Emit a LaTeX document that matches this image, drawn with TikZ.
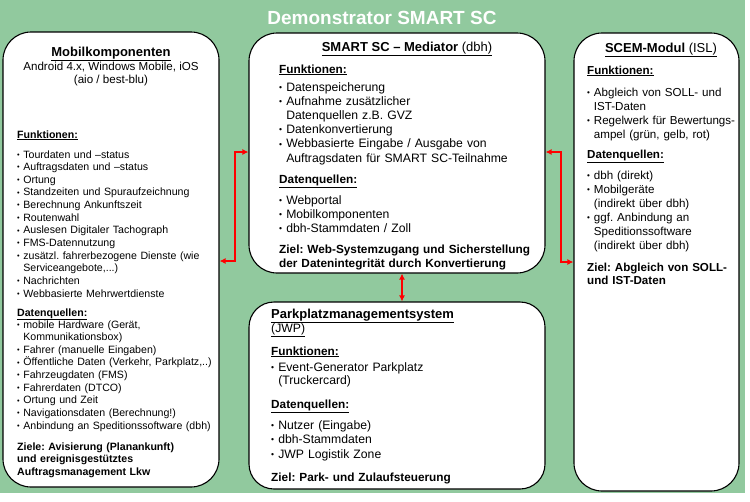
\documentclass[tikz,border=0pt]{standalone}
\usepackage{fontspec}
\setmainfont{Liberation Sans}
\usetikzlibrary{arrows.meta}
\definecolor{bggreen}{RGB}{145,201,158}
\definecolor{arrred}{RGB}{255,0,0}
\newcommand\bl{\raisebox{0.12ex}{\scalebox{0.7}{\textbullet}}\ }
\newcommand\ind{\hphantom{\bl}}
\newcommand\undl[1]{\underline{#1}}
\frenchspacing
\begin{document}
\begin{tikzpicture}[x=1pt,y=-1pt,
  box/.style={draw=black, line width=1.1pt, fill=white, rounded corners=28pt, inner sep=0pt},
  txt/.style={anchor=base west, inner sep=0pt, text width=260pt, align=left},
  small/.style={font=\fontsize{10.6}{12.65}\selectfont},
  smallb/.style={font=\fontsize{10.6}{12.7}\selectfont\bfseries},
  mid/.style={font=\fontsize{12.2}{14.2}\selectfont},
  midb/.style={font=\fontsize{11.8}{14}\selectfont\bfseries},
  rgt/.style={font=\fontsize{11.6}{14}\selectfont},
  rgtb/.style={font=\fontsize{11.6}{13.5}\selectfont\bfseries},
  head/.style={anchor=base, inner sep=0pt, font=\fontsize{13}{15}\selectfont\bfseries},
  sub/.style={anchor=base, inner sep=0pt, font=\fontsize{11.6}{13.5}\selectfont},
  conn/.style={draw=arrred, line width=2pt, {Latex[length=6pt,width=6pt]}-{Latex[length=6pt,width=6pt]}}
]
\useasboundingbox (0,0) rectangle (750,501);
\fill[white] (0,0) rectangle (750,501);
\fill[bggreen] (0,0) rectangle (745,493);

\node[anchor=base, inner sep=0pt, font=\fontsize{19}{22}\selectfont\bfseries, text=white] (title) at (382,24) {Demonstrator SMART SC};

% boxes
\node[box, minimum width=216pt, minimum height=455pt] (lb) at (111,259.5) {};
\node[box, minimum width=296pt, minimum height=240pt] (mt) at (397,153) {};
\node[box, minimum width=296pt, minimum height=187pt, rounded corners=25pt] (mb) at (397,395.5) {};
\node[box, minimum width=165pt, minimum height=458pt] (rb) at (656.5,262) {};

% left box
\node[head] (lh) at (111,56) {\undl{Mobilkomponenten}};
\node[sub] (ls1) at (111,70) {Android 4.x, Windows Mobile, iOS};
\node[sub] (ls2) at (111,83) {(aio / best-blu)};
\node[txt, smallb] (lfh) at (17,138) {\undl{Funktionen:}};
\node[txt, small] (lfl) at (17,158) {\bl Tourdaten und –status\\
\bl Auftragsdaten und –status\\
\bl Ortung\\
\bl Standzeiten und Spuraufzeichnung\\
\bl Berechnung Ankunftszeit\\
\bl Routenwahl\\
\bl Auslesen Digitaler Tachograph\\
\bl FMS-Datennutzung\\
\bl zusätzl. fahrerbezogene Dienste (wie\\
\ind Serviceangebote,...)\\
\bl Nachrichten\\
\bl Webbasierte Mehrwertdienste};
\node[txt, smallb] (ldh) at (17,316) {\undl{Datenquellen:}};
\node[txt, small] (ldl) at (17,328) {\bl mobile Hardware (Gerät,\\
\ind Kommunikationsbox)\\
\bl Fahrer (manuelle Eingaben)\\
\bl Öffentliche Daten (Verkehr, Parkplatz,..)\\
\bl Fahrzeugdaten (FMS)\\
\bl Fahrerdaten (DTCO)\\
\bl Ortung und Zeit\\
\bl Navigationsdaten (Berechnung!)\\
\bl Anbindung an Speditionssoftware (dbh)};
\node[txt, smallb] (lz) at (17,450) {Ziele: Avisierung (Planankunft)\\
und ereignisgestütztes\\
Auftragsmanagement Lkw};

% middle top box
\node[head] (mh) at (407,51) {\undl{SMART SC – Mediator {\mdseries(dbh)}}};
\node[txt, midb] (mfh) at (279,73) {\undl{Funktionen:}};
\node[txt, mid] (mfl) at (279,91) {\bl Datenspeicherung\\
\bl Aufnahme zusätzlicher\\
\ind Datenquellen z.B. GVZ\\
\bl Datenkonvertierung\\
\bl Webbasierte Eingabe / Ausgabe von\\
\ind Auftragsdaten für SMART SC-Teilnahme};
\node[txt, midb] (mdh) at (279,183) {\undl{Datenquellen:}};
\node[txt, mid] (mdl) at (279,204) {\bl Webportal\\
\bl Mobilkomponenten\\
\bl dbh-Stammdaten / Zoll};
\node[txt, midb] (mz) at (279,253) {Ziel: Web-Systemzugang und Sicherstellung\\
der Datenintegrität durch Konvertierung};

% middle bottom box
\node[txt, font=\fontsize{13}{15}\selectfont\bfseries] (bh1) at (271,318) {\undl{Parkplatzmanagementsystem}};
\node[txt, mid] (bh2) at (271,332) {\undl{(JWP)}};
\node[txt, midb] (bfh) at (271,355) {\undl{Funktionen:}};
\node[txt, font=\fontsize{12.2}{13.5}\selectfont] (bfl) at (271,371) {\bl Event-Generator Parkplatz\\
\ind (Truckercard)};
\node[txt, midb] (bdh) at (271,408) {\undl{Datenquellen:}};
\node[txt, font=\fontsize{12.2}{14.5}\selectfont] (bdl) at (271,429) {\bl Nutzer (Eingabe)\\
\bl dbh-Stammdaten\\
\bl JWP Logistik Zone};
\node[txt, midb] (bz) at (271,481) {Ziel: Park- und Zulaufsteuerung};

% right box
\node[head] (rh) at (661,52) {\undl{SCEM-Modul {\mdseries(ISL)}}};
\node[txt, rgtb] (rfh) at (587,74) {\undl{Funktionen:}};
\node[txt, rgt] (rfl) at (587,96) {\bl Abgleich von SOLL- und\\
\ind IST-Daten\\
\bl Regelwerk für Bewertungs-\\
\ind ampel (grün, gelb, rot)};
\node[txt, rgtb] (rdh) at (587,158) {\undl{Datenquellen:}};
\node[txt, rgt] (rdl) at (587,179) {\bl dbh (direkt)\\
\bl Mobilgeräte\\
\ind (indirekt über dbh)\\
\bl ggf. Anbindung an\\
\ind Speditionssoftware\\
\ind (indirekt über dbh)};
\node[txt, rgtb] (rz) at (587,271) {Ziel: Abgleich von SOLL-\\
und IST-Daten};

% connectors
\draw[conn] (lb.east |- 0,261) -- ++(15,0) |- (mt.west |- 0,152);
\draw[conn] (mt.east |- 0,152) -- ++(15,0) |- (rb.west |- 0,262);
\draw[conn] (mt.south -| 402,0) -- (mb.north -| 402,0);
\end{tikzpicture}
\end{document}
